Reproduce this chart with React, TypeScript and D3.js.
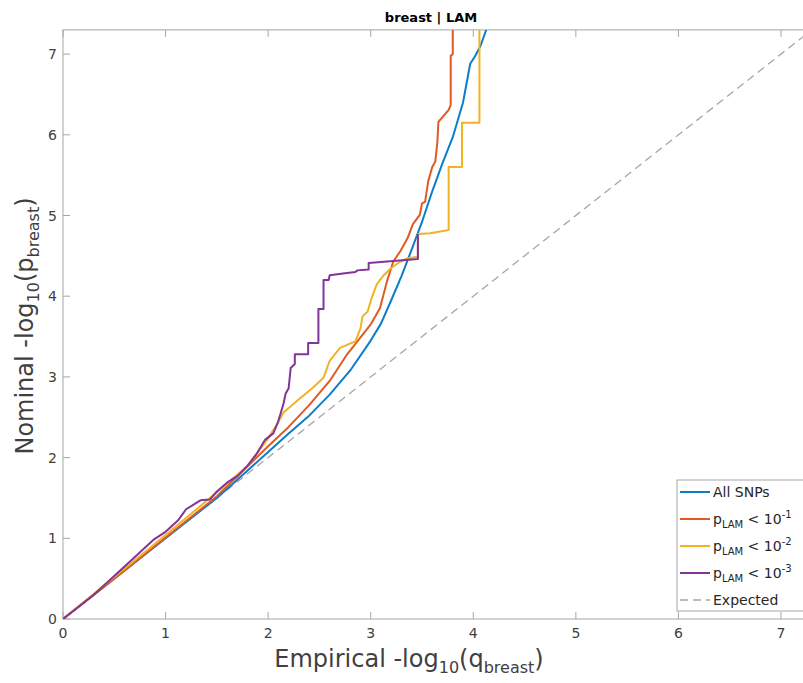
import React, { useEffect, useRef } from "react";
import * as d3 from "d3";

type Pt = [number, number];

const allSnps: Pt[] = [
  [0, 0], [0.5, 0.5], [1, 1.0], [1.5, 1.5], [1.8, 1.84], [2.0, 2.07], [2.2, 2.3],
  [2.4, 2.52], [2.6, 2.78], [2.8, 3.08], [3.0, 3.45], [3.1, 3.66], [3.2, 3.95],
  [3.3, 4.25], [3.4, 4.58], [3.5, 4.92], [3.6, 5.3], [3.7, 5.65], [3.8, 5.97],
  [3.9, 6.4], [3.97, 6.88], [4.02, 6.98], [4.07, 7.1], [4.14, 7.35],
];

const pLam1: Pt[] = [
  [0, 0], [0.5, 0.5], [1, 1.01], [1.5, 1.52], [2.0, 2.14], [2.2, 2.38], [2.4, 2.65],
  [2.6, 2.95], [2.77, 3.28], [2.87, 3.44], [3.0, 3.65], [3.09, 3.85], [3.16, 4.19],
  [3.22, 4.43], [3.29, 4.56], [3.36, 4.72], [3.41, 4.89], [3.48, 5.01], [3.5, 5.15],
  [3.53, 5.17], [3.56, 5.42], [3.6, 5.6], [3.63, 5.67], [3.65, 5.91], [3.66, 6.16],
  [3.7, 6.22], [3.76, 6.31], [3.78, 6.37], [3.78, 6.98], [3.8, 7.0], [3.8, 7.35],
];

const pLam2: Pt[] = [
  [0, 0], [0.5, 0.52], [1, 1.04], [1.5, 1.57], [1.8, 1.9], [1.99, 2.22], [2.09, 2.42],
  [2.15, 2.56], [2.28, 2.7], [2.43, 2.86], [2.54, 2.99], [2.6, 3.2], [2.7, 3.36],
  [2.85, 3.44], [2.9, 3.6], [2.92, 3.75], [2.97, 3.81], [3.01, 3.98], [3.06, 4.15],
  [3.12, 4.25], [3.2, 4.35], [3.29, 4.43], [3.36, 4.47], [3.46, 4.49], [3.46, 4.77],
  [3.58, 4.78], [3.76, 4.82], [3.76, 5.6], [3.89, 5.6], [3.89, 6.15], [4.06, 6.15],
  [4.06, 7.35],
];

const pLam3: Pt[] = [
  [0, 0], [0.3, 0.3], [0.6, 0.65], [0.88, 0.98], [1.0, 1.08], [1.12, 1.22], [1.2, 1.36],
  [1.3, 1.44], [1.34, 1.47], [1.43, 1.48], [1.5, 1.58], [1.61, 1.7], [1.7, 1.77],
  [1.8, 1.9], [1.89, 2.05], [1.97, 2.22], [2.05, 2.3], [2.09, 2.42], [2.12, 2.54],
  [2.15, 2.67], [2.17, 2.79], [2.2, 2.86], [2.22, 3.11], [2.26, 3.16], [2.26, 3.28],
  [2.39, 3.28], [2.39, 3.42], [2.49, 3.42], [2.49, 3.84], [2.54, 3.84], [2.54, 4.2],
  [2.59, 4.2], [2.6, 4.26], [2.73, 4.28], [2.85, 4.3], [2.87, 4.32], [2.98, 4.33],
  [2.98, 4.41], [3.16, 4.43], [3.46, 4.46], [3.46, 4.77],
];

const expected: Pt[] = [[0, 0], [7.3, 7.3]];

const ticks = [0, 1, 2, 3, 4, 5, 6, 7];
const legendSup = ["-1", "-2", "-3"];

const series = [
  { name: "All SNPs", data: allSnps, color: "#0B7DCB" },
  { name: "-1", data: pLam1, color: "#E05A22" },
  { name: "-2", data: pLam2, color: "#F0B323" },
  { name: "-3", data: pLam3, color: "#82349A" },
];

const W = 803;
const H = 683;
const FONT = "DejaVu Sans, sans-serif";

const App = () => {
  const ref = useRef<SVGSVGElement>(null);

  useEffect(() => {
    const svg = d3.select(ref.current);
    svg.selectAll("*").remove();

    const x = d3.scaleLinear().domain([0, 7.3]).range([63, 63 + 7.3 * 102.57]);
    const y = d3.scaleLinear().domain([0, 7.3]).range([619, 619 - 7.3 * 80.7]);
    const [x0, x1] = x.range();
    const [y0, y1] = y.range();

    svg.append("rect").attr("width", W).attr("height", H).attr("fill", "#fff");

    svg
      .append("defs")
      .append("clipPath")
      .attr("id", "plotclip")
      .append("rect")
      .attr("x", x0)
      .attr("y", y1)
      .attr("width", x1 - x0)
      .attr("height", y0 - y1);

    // box and ticks
    const axisColor = "#a6a6a6";
    const g = svg.append("g");
    g.append("rect")
      .attr("x", x0)
      .attr("y", y1)
      .attr("width", x1 - x0)
      .attr("height", y0 - y1)
      .attr("fill", "none")
      .attr("stroke", axisColor)
      .attr("stroke-width", 1);

    ticks.forEach((t) => {
      g.append("line").attr("x1", x(t)).attr("x2", x(t)).attr("y1", y0).attr("y2", y0 - 7).attr("stroke", axisColor);
      g.append("line").attr("x1", x(t)).attr("x2", x(t)).attr("y1", y1).attr("y2", y1 + 7).attr("stroke", axisColor);
      g.append("line").attr("x1", x0).attr("x2", x0 + 7).attr("y1", y(t)).attr("y2", y(t)).attr("stroke", axisColor);
      g.append("text")
        .attr("x", x(t))
        .attr("y", y0 + 19)
        .attr("text-anchor", "middle")
        .attr("font-family", FONT)
        .attr("font-size", 14)
        .attr("fill", "#404040")
        .text(t);
      g.append("text")
        .attr("x", x0 - 6)
        .attr("y", y(t) + 5)
        .attr("text-anchor", "end")
        .attr("font-family", FONT)
        .attr("font-size", 14)
        .attr("fill", "#404040")
        .text(t);
    });

    const line = d3
      .line<Pt>()
      .x((d) => x(d[0]))
      .y((d) => y(d[1]));

    const plot = svg.append("g").attr("clip-path", "url(#plotclip)");

    plot
      .append("path")
      .datum(expected)
      .attr("fill", "none")
      .attr("stroke", "#a6a6a6")
      .attr("stroke-width", 1.3)
      .attr("stroke-dasharray", "8,5")
      .attr("d", line);

    series.forEach((s) => {
      plot
        .append("path")
        .datum(s.data)
        .attr("fill", "none")
        .attr("stroke", s.color)
        .attr("stroke-width", 2)
        .attr("stroke-linejoin", "round")
        .attr("d", line);
    });

    // title
    svg
      .append("text")
      .attr("x", 431)
      .attr("y", 22)
      .attr("text-anchor", "middle")
      .attr("font-family", FONT)
      .attr("font-weight", "bold")
      .attr("font-size", 13)
      .attr("fill", "#000")
      .text("breast | LAM");

    // x label
    const xl = svg
      .append("text")
      .attr("x", 409)
      .attr("y", 667)
      .attr("text-anchor", "middle")
      .attr("font-family", FONT)
      .attr("font-size", 24)
      .attr("fill", "#404040");
    xl.append("tspan").text("Empirical -log");
    xl.append("tspan").attr("font-size", 16).attr("dy", 6).text("10");
    xl.append("tspan").attr("dy", -6).text("(q");
    xl.append("tspan").attr("font-size", 16).attr("dy", 6).text("breast");
    xl.append("tspan").attr("dy", -6).text(")");

    // y label
    const yl = svg
      .append("text")
      .attr("transform", "translate(33,326) rotate(-90)")
      .attr("text-anchor", "middle")
      .attr("font-family", FONT)
      .attr("font-size", 24)
      .attr("fill", "#404040");
    yl.append("tspan").text("Nominal -log");
    yl.append("tspan").attr("font-size", 16).attr("dy", 6).text("10");
    yl.append("tspan").attr("dy", -6).text("(p");
    yl.append("tspan").attr("font-size", 16).attr("dy", 6).text("breast");
    yl.append("tspan").attr("dy", -6).text(")");

    // legend
    const lg = svg.append("g");
    lg.append("rect")
      .attr("x", 677)
      .attr("y", 480)
      .attr("width", 140)
      .attr("height", 131)
      .attr("fill", "#fff")
      .attr("stroke", "#a6a6a6");

    const rowY = [492, 519, 546, 573, 600];
    const entries = [...series.map((s) => ({ color: s.color, dash: null as string | null })), { color: "#a6a6a6", dash: "8,5" }];
    entries.forEach((e, i) => {
      lg.append("line")
        .attr("x1", 680)
        .attr("x2", 710)
        .attr("y1", rowY[i])
        .attr("y2", rowY[i])
        .attr("stroke", e.color)
        .attr("stroke-width", e.dash ? 1.3 : 2)
        .attr("stroke-dasharray", e.dash);
      const t = lg
        .append("text")
        .attr("x", 713)
        .attr("y", rowY[i] + 5)
        .attr("font-family", FONT)
        .attr("font-size", 14)
        .attr("fill", "#262626");
      if (i === 0) t.text("All SNPs");
      else if (i === 4) t.text("Expected");
      else {
        t.append("tspan").text("p");
        t.append("tspan").attr("font-size", 10).attr("dy", 4).text("LAM");
        t.append("tspan").attr("dy", -4).text(" < 10");
        t.append("tspan").attr("font-size", 10).attr("dy", -6).text(legendSup[i - 1]);
      }
    });
  }, []);

  return (
    <svg
      ref={ref}
      width={W}
      height={H}
      style={{ position: "absolute", left: 0, top: 0 }}
    />
  );
};

export default App;
